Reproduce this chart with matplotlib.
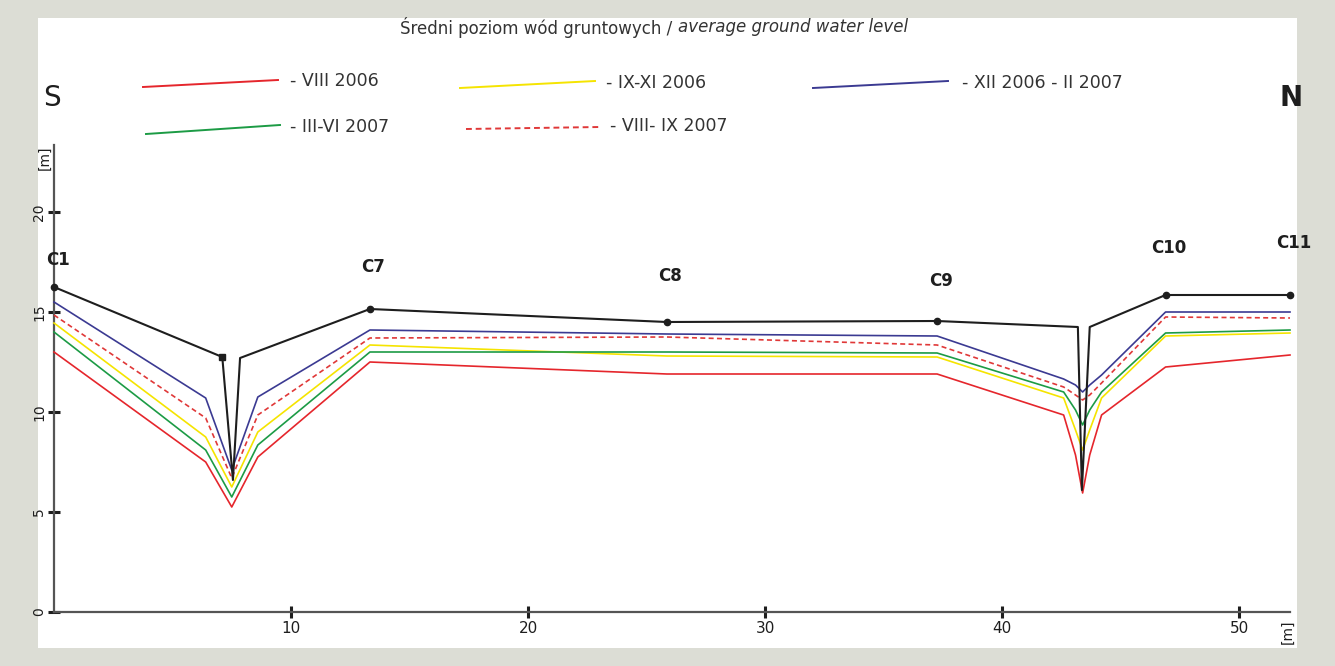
import matplotlib
matplotlib.use("Agg")
import matplotlib.pyplot as plt
from matplotlib.lines import Line2D
from matplotlib.patches import Rectangle

# distance along the profile [km] and levels [m]
surface_dist = [0, 7.1, 7.55, 7.85, 13.33, 25.86, 37.26, 43.2, 43.37, 43.7, 46.9, 52.15]
surface_level = [16.25, 12.75, 6.6, 12.7, 15.15, 14.5, 14.55, 14.25, 6.1, 14.25, 15.85, 15.85]

wells = ["C1", "C7", "C8", "C9", "C10", "C11"]
well_dist = [0, 13.33, 25.86, 37.26, 46.9, 52.15]
well_level = [16.25, 15.15, 14.5, 14.55, 15.85, 15.85]
bank_dist = [7.1]
bank_level = [12.75]

gw_dist = [0, 6.4, 7.5, 8.6, 13.33, 25.86, 37.26, 42.6, 43.1, 43.4, 43.7, 44.2, 46.9, 52.15]
lvl_viii_2006 = [13.0, 7.5, 5.25, 7.75, 12.5, 11.9, 11.9, 9.85, 7.85, 5.95, 7.85, 9.85, 12.25, 12.85]
lvl_ix_xi_2006 = [14.45, 8.75, 6.25, 9.0, 13.35, 12.8, 12.75, 10.7, 9.1, 8.1, 9.1, 10.7, 13.8, 13.95]
lvl_xii_ii = [15.5, 10.7, 7.1, 10.75, 14.1, 13.9, 13.8, 11.65, 11.35, 11.0, 11.35, 11.85, 15.0, 15.0]
lvl_iii_vi_2007 = [14.0, 8.1, 5.75, 8.35, 13.0, 13.0, 12.95, 11.0, 10.1, 9.35, 10.1, 11.0, 13.95, 14.1]
lvl_viii_ix_2007 = [14.85, 9.7, 6.7, 9.85, 13.7, 13.75, 13.35, 11.25, 10.85, 10.6, 10.85, 11.45, 14.75, 14.7]

series_labels = ["- VIII 2006", "- IX-XI 2006", "- XII 2006 - II 2007",
                 "- III-VI 2007", "- VIII- IX 2007"]

x_ticks = [10, 20, 30, 40, 50]
y_ticks = [0, 5, 10, 15, 20]

RED = "#e5262c"
YELLOW = "#f5e400"
BLUE = "#3b3a92"
GREEN = "#1c9b45"
DRED = "#e03838"
INK = "#1e1e1e"

W, H = 1335, 666
fig = plt.figure(figsize=(W / 100, H / 100), dpi=100)
fig.patch.set_facecolor("#dcddd5")
fig.add_artist(Rectangle((38 / W, 1 - 648 / H), (1297 - 38) / W, (648 - 18) / H,
                         transform=fig.transFigure, facecolor="white",
                         edgecolor="none", zorder=0))

ax = fig.add_axes([54 / W, 1 - 612 / H, (1290 - 54) / W, (612 - 145) / H])
ax.set_facecolor("none")
ax.set_xlim(0, 52.15)
ax.set_ylim(0, 23.35)

styles = [
    (lvl_viii_2006, RED, "-"),
    (lvl_ix_xi_2006, YELLOW, "-"),
    (lvl_xii_ii, BLUE, "-"),
    (lvl_iii_vi_2007, GREEN, "-"),
    (lvl_viii_ix_2007, DRED, (0, (3, 2))),
]
for vals, col, ls in styles:
    ax.plot(gw_dist, vals, color=col, lw=1.2, ls=ls, zorder=3, clip_on=False)

ax.plot(surface_dist, surface_level, color=INK, lw=1.5, zorder=4, clip_on=False)
ax.plot(well_dist, well_level, ls="none", marker="o", ms=4.5, color=INK,
        zorder=5, clip_on=False)
ax.plot(bank_dist, bank_level, ls="none", marker="s", ms=4, color=INK,
        zorder=5, clip_on=False)

# well names above the ground surface (offset in metres)
label_offsets = [0.9, 1.65, 1.85, 1.55, 1.9, 2.15]
for name, d, lv, off in zip(wells, well_dist, well_level, label_offsets):
    ax.text(d + 0.15, lv + off, name, ha="center", va="bottom", fontsize=12,
            fontweight="bold", color=INK, clip_on=False)

for s in ["top", "right"]:
    ax.spines[s].set_visible(False)
for s in ["left", "bottom"]:
    ax.spines[s].set_color("#555555")
    ax.spines[s].set_linewidth(1.6)

ax.set_xticks(x_ticks)
ax.set_xticklabels([str(t) for t in x_ticks], fontsize=11, color=INK)
ax.set_yticks(y_ticks)
ax.set_yticklabels([str(t) for t in y_ticks], fontsize=10, color=INK,
                   rotation=90, va="center")
ax.tick_params(axis="both", direction="inout", length=9, width=2.2, color=INK)
ax.tick_params(axis="x", pad=2)
ax.tick_params(axis="y", pad=1)

fig.text(1288 / W, 1 - 632 / H, "[m]", fontsize=10, color=INK, ha="center",
         va="center", rotation=90)
fig.text(45 / W, 1 - 158 / H, "[m]", fontsize=10, color=INK, ha="center",
         va="center", rotation=90)

fig.text(52 / W, 1 - 98 / H, "S", fontsize=20, color=INK, ha="center", va="center")
fig.text(1291 / W, 1 - 98 / H, "N", fontsize=20, color=INK, ha="center",
         va="center", fontweight="bold")

# title: Polish part upright, English part italic, centred as one line
title_y = 1 - 27 / H
t1 = fig.text(0, title_y, "Średni poziom wód gruntowych / ", fontsize=12,
              color="#333333", ha="left", va="center")
t2 = fig.text(0, title_y, "average ground water level", fontsize=12,
              color="#333333", ha="left", va="center", style="italic")
fig.canvas.draw()
r = fig.canvas.get_renderer()
w1 = t1.get_window_extent(r).width
w2 = t2.get_window_extent(r).width
start = 654 - (w1 + w2) / 2
t1.set_x(start / W)
t2.set_x((start + w1) / W)

# legend drawn as line samples with labels
legend_rows = [
    (143, 278, 87, 80, RED, "-", series_labels[0], 290),
    (460, 595, 88, 81, YELLOW, "-", series_labels[1], 606),
    (813, 948, 88, 81, BLUE, "-", series_labels[2], 962),
    (146, 280, 134, 125, GREEN, "-", series_labels[3], 290),
    (466, 600, 129, 127, DRED, (0, (3, 2)), series_labels[4], 610),
]
for x0, x1, y0, y1, col, ls, lab, tx in legend_rows:
    fig.add_artist(Line2D([x0 / W, x1 / W], [1 - y0 / H, 1 - y1 / H],
                          transform=fig.transFigure, color=col, lw=1.4, ls=ls))
    fig.text(tx / W, 1 - ((y0 + y1) / 2 - 2) / H, lab, fontsize=12.5,
             color="#333333", ha="left", va="center")

fig.savefig("out.png", dpi=100, facecolor=fig.get_facecolor())
